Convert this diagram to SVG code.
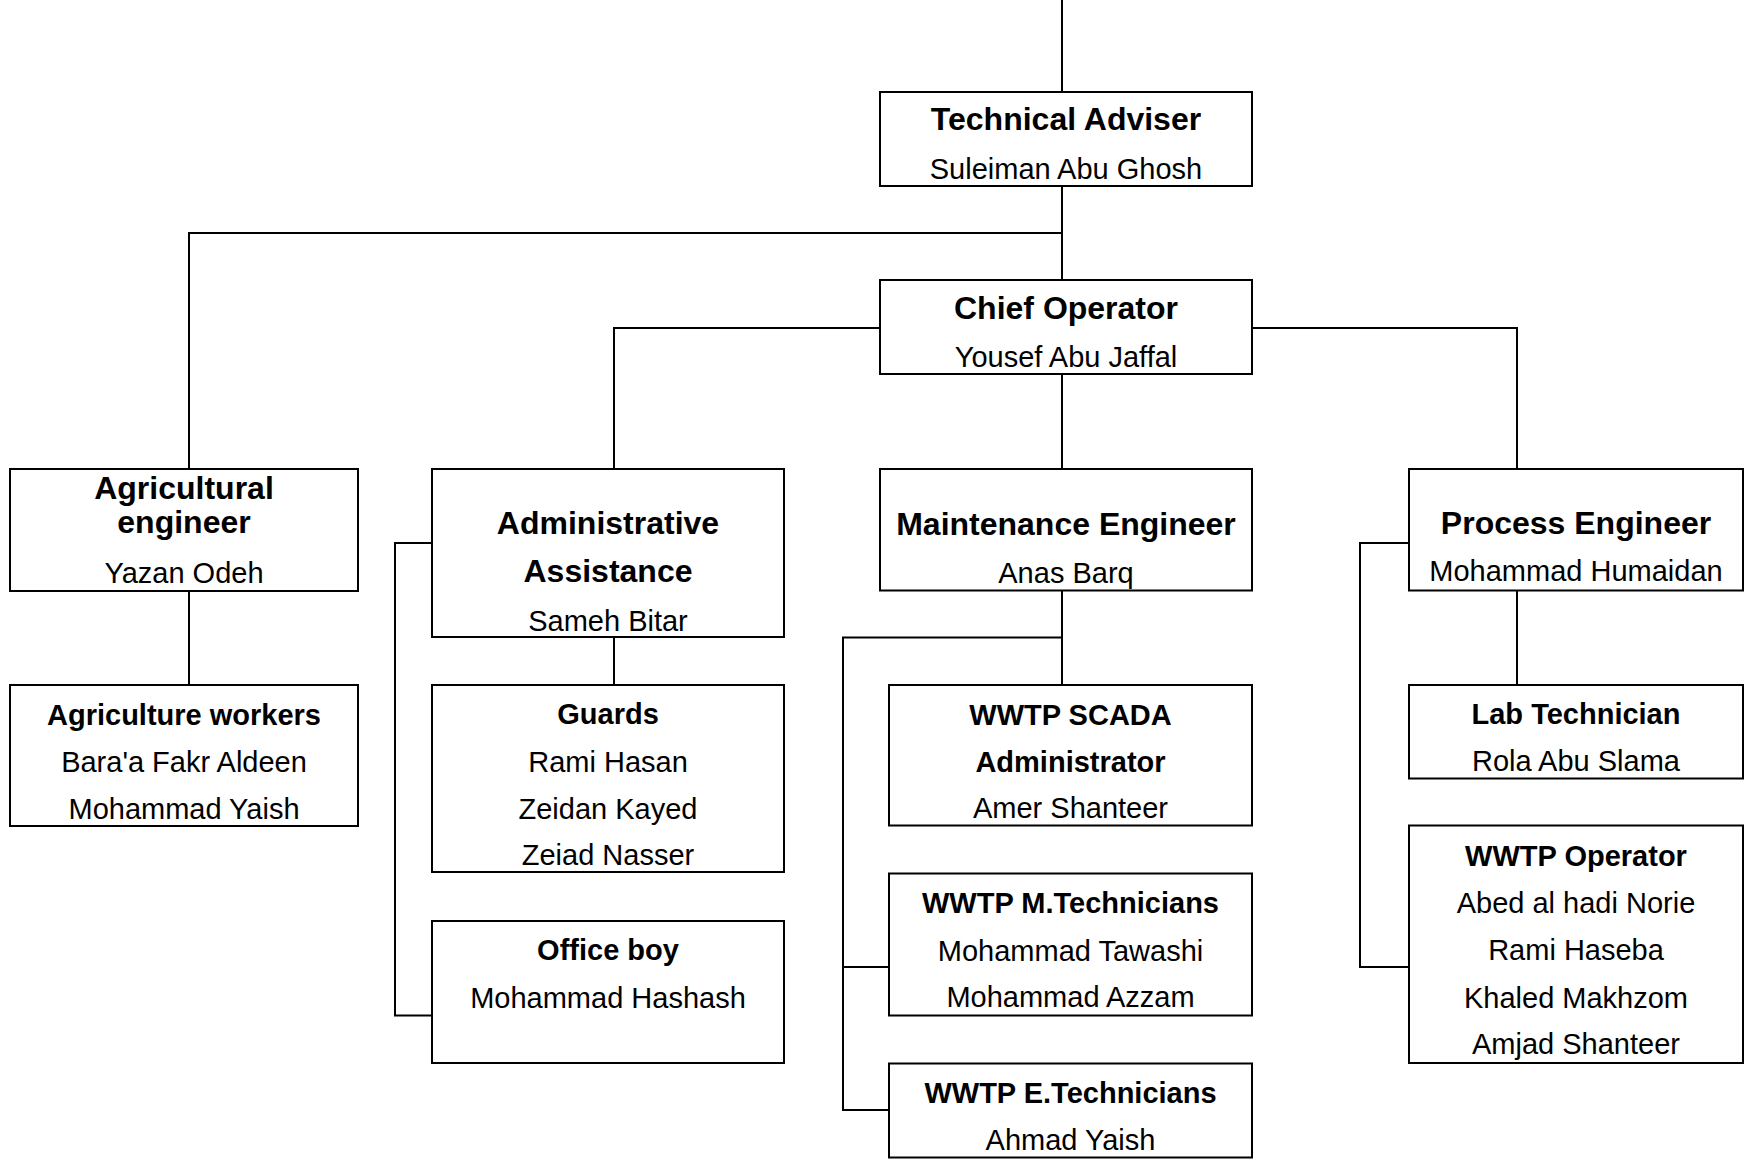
<svg xmlns="http://www.w3.org/2000/svg" width="1744" height="1160" viewBox="0 0 1744 1160">
<style>
rect.box{fill:#fff;stroke:#000;stroke-width:2}
#connectors path{fill:none;stroke:#000;stroke-width:2}
text{font-family:"Liberation Sans",Arial,sans-serif;text-anchor:middle;fill:#000}
.h{font-weight:bold;font-size:32px}
.s{font-weight:bold;font-size:29px}
.n{font-size:29px}
</style>
<rect width="1744" height="1160" fill="#fff"/>
<g id="connectors">
<path d="M1062 0V92M1062 186V280"/>
<path d="M1062 233H189V469"/>
<path d="M880 328H614V469M1252 328H1517V469"/>
<path d="M1062 374V469"/>
<path d="M189 591V685"/>
<path d="M614 637V685"/>
<path d="M432 543H395V1015.5H432"/>
<path d="M1062 590.5V685M1062 637.5H843V1110H889M843 967H889"/>
<path d="M1517 590.5V685"/>
<path d="M1409 543H1360V967H1409"/>
</g>
<g id="technical-adviser">
<rect class="box" x="880" y="92" width="372" height="94"/>
<text class="h" x="1066" y="130">Technical Adviser</text>
<text class="n" x="1066" y="179">Suleiman Abu Ghosh</text>
</g>
<g id="chief-operator">
<rect class="box" x="880" y="280" width="372" height="94"/>
<text class="h" x="1066" y="318.5">Chief Operator</text>
<text class="n" x="1066" y="366.5">Yousef Abu Jaffal</text>
</g>
<g id="agricultural-engineer">
<rect class="box" x="10" y="469" width="348" height="122"/>
<text class="h" x="184" y="498.5">Agricultural</text>
<text class="h" x="184" y="533">engineer</text>
<text class="n" x="184" y="582.5">Yazan Odeh</text>
</g>
<g id="administrative-assistance">
<rect class="box" x="432" y="469" width="352" height="168"/>
<text class="h" x="608" y="534">Administrative</text>
<text class="h" x="608" y="581.5">Assistance</text>
<text class="n" x="608" y="631">Sameh Bitar</text>
</g>
<g id="maintenance-engineer">
<rect class="box" x="880" y="469" width="372" height="121.5"/>
<text class="h" x="1066" y="534.5">Maintenance Engineer</text>
<text class="n" x="1066" y="582.5">Anas Barq</text>
</g>
<g id="process-engineer">
<rect class="box" x="1409" y="469" width="334" height="121.5"/>
<text class="h" x="1576" y="534">Process Engineer</text>
<text class="n" x="1576" y="580.5">Mohammad Humaidan</text>
</g>
<g id="agriculture-workers">
<rect class="box" x="10" y="685" width="348" height="141"/>
<text class="s" x="184" y="725">Agriculture workers</text>
<text class="n" x="184" y="771.5">Bara'a Fakr Aldeen</text>
<text class="n" x="184" y="818.5">Mohammad Yaish</text>
</g>
<g id="guards">
<rect class="box" x="432" y="685" width="352" height="187"/>
<text class="s" x="608" y="724">Guards</text>
<text class="n" x="608" y="772">Rami Hasan</text>
<text class="n" x="608" y="818.5">Zeidan Kayed</text>
<text class="n" x="608" y="865">Zeiad Nasser</text>
</g>
<g id="office-boy">
<rect class="box" x="432" y="921" width="352" height="142"/>
<text class="s" x="608" y="960">Office boy</text>
<text class="n" x="608" y="1007.5">Mohammad Hashash</text>
</g>
<g id="scada-administrator">
<rect class="box" x="889" y="685" width="363" height="140.5"/>
<text class="s" x="1070.5" y="725">WWTP SCADA</text>
<text class="s" x="1070.5" y="771.5">Administrator</text>
<text class="n" x="1070.5" y="818">Amer Shanteer</text>
</g>
<g id="m-technicians">
<rect class="box" x="889" y="873.5" width="363" height="142"/>
<text class="s" x="1070.5" y="913">WWTP M.Technicians</text>
<text class="n" x="1070.5" y="960.5">Mohammad Tawashi</text>
<text class="n" x="1070.5" y="1007">Mohammad Azzam</text>
</g>
<g id="e-technicians">
<rect class="box" x="889" y="1063.5" width="363" height="94"/>
<text class="s" x="1070.5" y="1103">WWTP E.Technicians</text>
<text class="n" x="1070.5" y="1149.5">Ahmad Yaish</text>
</g>
<g id="lab-technician">
<rect class="box" x="1409" y="685" width="334" height="93.5"/>
<text class="s" x="1576" y="724">Lab Technician</text>
<text class="n" x="1576" y="770.5">Rola Abu Slama</text>
</g>
<g id="wwtp-operator">
<rect class="box" x="1409" y="825.5" width="334" height="237.5"/>
<text class="s" x="1576" y="866">WWTP Operator</text>
<text class="n" x="1576" y="912.5">Abed al hadi Norie</text>
<text class="n" x="1576" y="960">Rami Haseba</text>
<text class="n" x="1576" y="1007.5">Khaled Makhzom</text>
<text class="n" x="1576" y="1054">Amjad Shanteer</text>
</g>
</svg>
